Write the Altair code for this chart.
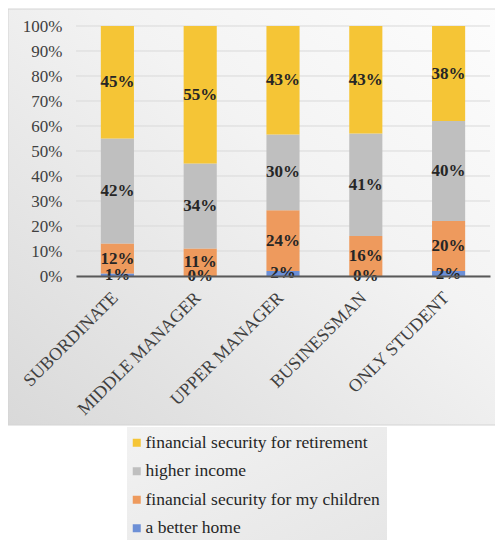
import altair as alt
import pandas as pd

categories = ["SUBORDINATE", "MIDDLE MANAGER", "UPPER MANAGER", "BUSINESSMAN", "ONLY STUDENT"]
series = ["a better home", "financial security for my children", "higher income",
          "financial security for retirement"]
better_home = [1, 0, 2, 0, 2]
children = [12, 11, 24, 16, 20]
higher_income = [42, 34, 30, 41, 40]
retirement = [45, 55, 43, 43, 38]
y_ticks = [0, 0.1, 0.2, 0.3, 0.4, 0.5, 0.6, 0.7, 0.8, 0.9, 1.0]

legend_order = ["financial security for retirement", "higher income",
                "financial security for my children", "a better home"]
legend_colors = ["#F5C536", "#BFBFBF", "#EE9A5D", "#6C8FD6"]

rows = []
for i, c in enumerate(categories):
    for j, (s, vals) in enumerate(zip(series, [better_home, children, higher_income, retirement])):
        rows.append({"cat": c, "series": s, "ord": j, "value": vals[i]})
df = pd.DataFrame(rows)

SERIF = "Liberation Serif"
one = pd.DataFrame({"a": [0]})

yscale = alt.Scale(domain=[0, 1])
yaxis = alt.Axis(title=None, values=y_ticks, format=".0%", labelOverlap=False, tickCount=11,
                 labelFont=SERIF, labelFontSize=17, labelColor="#404040",
                 ticks=False, domain=False, labelPadding=14, grid=False, zindex=1)

bg = alt.Chart(one).mark_rect(
    clip=False,
    stroke="#d4d4d4",
    strokeWidth=1,
    color=alt.LinearGradient(
        gradient="linear",
        stops=[alt.GradientStop(offset=0, color="#d9d9d9"),
               alt.GradientStop(offset=0.6, color="#f3f3f3"),
               alt.GradientStop(offset=1, color="#fdfdfd")],
        x1=0, y1=1, x2=1, y2=0),
).encode(x=alt.value(-68), x2=alt.value(430), y=alt.value(-17), y2=alt.value(399))

legend_box = alt.Chart(one).mark_rect(
    clip=False,
    color=alt.LinearGradient(
        gradient="linear",
        stops=[alt.GradientStop(offset=0, color="#f2f2f2"),
               alt.GradientStop(offset=1, color="#e6e6e6")],
        x1=0, y1=0, x2=1, y2=1),
).encode(x=alt.value(51), x2=alt.value(311), y=alt.value(401), y2=alt.value(520))

grid = alt.Chart(pd.DataFrame({"t": y_ticks})).mark_rule(color="#d9d9d9", strokeWidth=1).encode(
    y=alt.Y("t:Q", scale=yscale, axis=yaxis),
    x=alt.value(0), x2=alt.value(414),
)

base = alt.Chart(df).transform_stack(
    stack="value", groupby=["cat"], as_=["v0", "v1"],
    sort=[alt.SortField("ord", order="ascending")], offset="normalize"
).transform_calculate(mid="(datum.v0 + datum.v1) / 2", lab="datum.value + '%'")

xaxis = alt.Axis(title=None, labelAngle=315, labelAlign="right", labelBaseline="middle",
                 labelFont=SERIF, labelFontSize=18, labelColor="#404040",
                 labelPadding=19, labelOffset=-2, ticks=False, domainColor="#595959",
                 domainWidth=2, grid=False, labelLimit=300, zindex=1)
xscale = alt.Scale(paddingInner=0.6, paddingOuter=0.3)

bars = base.mark_bar().encode(
    x=alt.X("cat:N", sort=categories, scale=xscale, axis=xaxis),
    y=alt.Y("v0:Q", scale=yscale, axis=yaxis),
    y2="v1:Q",
    color=alt.Color("series:N", scale=alt.Scale(domain=legend_order, range=legend_colors),
                    legend=alt.Legend(title=None, orient="none", legendX=44, legendY=400,
                                      padding=8,
                                      labelFont=SERIF, labelFontSize=17.5, labelColor="#262626",
                                      symbolType="square", symbolSize=64, symbolStrokeWidth=0,
                                      rowPadding=9.5, labelOffset=0, labelLimit=400)),
)

labels = base.mark_text(font=SERIF, fontSize=17, fontWeight="bold", color="#262626",
                        baseline="middle").encode(
    x=alt.X("cat:N", sort=categories, scale=xscale, axis=xaxis),
    y=alt.Y("mid:Q", scale=yscale, axis=yaxis),
    text="lab:N",
)

chart = alt.layer(bg, legend_box, grid, bars, labels).properties(
    width=414, height=250, autosize="none",
    padding={"left": 68, "top": 18, "right": 5, "bottom": 264},
    background="white",
).configure_view(strokeWidth=0)

chart.save("out.html", embed_options={"renderer": "svg", "actions": False})
